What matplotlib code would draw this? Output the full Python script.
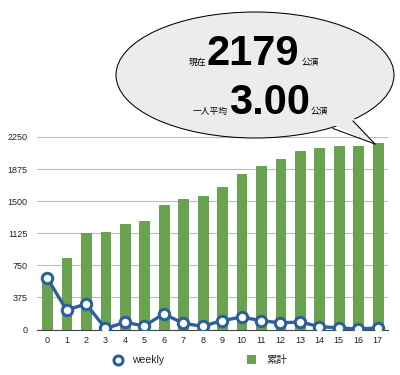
import matplotlib.pyplot as plt
from matplotlib.patches import Ellipse, Polygon
from matplotlib.lines import Line2D

weeks = list(range(18))
total = [604, 830, 1130, 1142, 1229, 1271, 1454, 1525, 1563, 1665,
         1813, 1914, 1993, 2083, 2118, 2141, 2148, 2179]
weekly = [604, 226, 300, 12, 84, 42, 183, 72, 38, 104,
          146, 103, 78, 88, 35, 18, 6, 17]
yticks = [0, 375, 750, 1125, 1500, 1875, 2250]

jp = ['Noto Sans CJK JP', 'DejaVu Sans']
num = 'Liberation Sans'
green = '#69a34f'
blue = '#2d6099'

W, H = 400, 375
fig = plt.figure(figsize=(W / 100, H / 100), dpi=100)

# chart area in pixels
left, right, top, bottom = 37, 388, 137, 329.5
ax = fig.add_axes([left / W, 1 - bottom / H, (right - left) / W, (bottom - top) / H])
ax.bar(weeks, total, width=0.5, color=green, edgecolor='#5c9a44', linewidth=0.6, zorder=2)
ax.plot(weeks, weekly, color=blue, lw=2.4, marker='o', ms=7.5, mfc='white',
        mec=blue, mew=2.2, zorder=3)
ax.set_xlim(-0.52, 17.53)
ax.set_ylim(0, 2250)
ax.set_yticks(yticks)
ax.set_xticks(weeks)
ax.grid(axis='y', color='#bdbdbd', lw=0.8, zorder=0)
for s in ['top', 'right', 'left']:
    ax.spines[s].set_visible(False)
ax.spines['bottom'].set_color('#444444')
ax.spines['bottom'].set_linewidth(0.8)
ax.tick_params(length=0, labelsize=6.5, colors='#222222')
ax.tick_params(axis='y', pad=7)
ax.tick_params(axis='x', pad=5)
for lab in ax.get_xticklabels() + ax.get_yticklabels():
    lab.set_fontfamily(num)

# overlay in pixel coordinates for the bubble and legend
ov = fig.add_axes([0, 0, 1, 1], zorder=5)
ov.set_xlim(0, W)
ov.set_ylim(H, 0)
ov.axis('off')
ov.patch.set_alpha(0)

ov.add_patch(Ellipse((255, 75), 278, 126, facecolor='#ececec', edgecolor='black', lw=0.75, zorder=1))
ov.add_patch(Polygon([(331, 124), (352, 116), (375, 144)], closed=True,
                     facecolor='#ececec', edgecolor='none', zorder=2))
ov.plot([333, 375], [128.5, 144], color='black', lw=0.75, zorder=3)
ov.plot([353, 375], [121, 144], color='black', lw=0.75, zorder=3)

ov.text(206, 65, '現在', fontsize=6.3, family=jp, ha='right', va='baseline', zorder=4)
ov.text(207, 65, '2179', fontsize=30, family=num, weight='bold', ha='left', va='baseline', zorder=4)
ov.text(302, 65, '公演', fontsize=6.3, family=jp, ha='left', va='baseline', zorder=4)
ov.text(228, 114, '一人平均', fontsize=6.3, family=jp, ha='right', va='baseline', zorder=4)
ov.text(229, 114, '3.00', fontsize=30, family=num, weight='bold', ha='left', va='baseline', zorder=4)
ov.text(311, 114, '公演', fontsize=6.3, family=jp, ha='left', va='baseline', zorder=4)

# legend
ov.add_line(Line2D([118], [360], marker='o', ms=6.5, mfc='white', mec=blue, mew=2.2))
ov.text(132, 360, 'weekly', fontsize=7.5, family=num, va='center', color='#222222')
ov.add_patch(Polygon([(247, 355), (256, 355), (256, 364), (247, 364)], facecolor=green, edgecolor='none'))
ov.text(266, 360, '累計', fontsize=7.5, family=jp, va='center', color='#222222')

fig.savefig('out.png', dpi=100)
